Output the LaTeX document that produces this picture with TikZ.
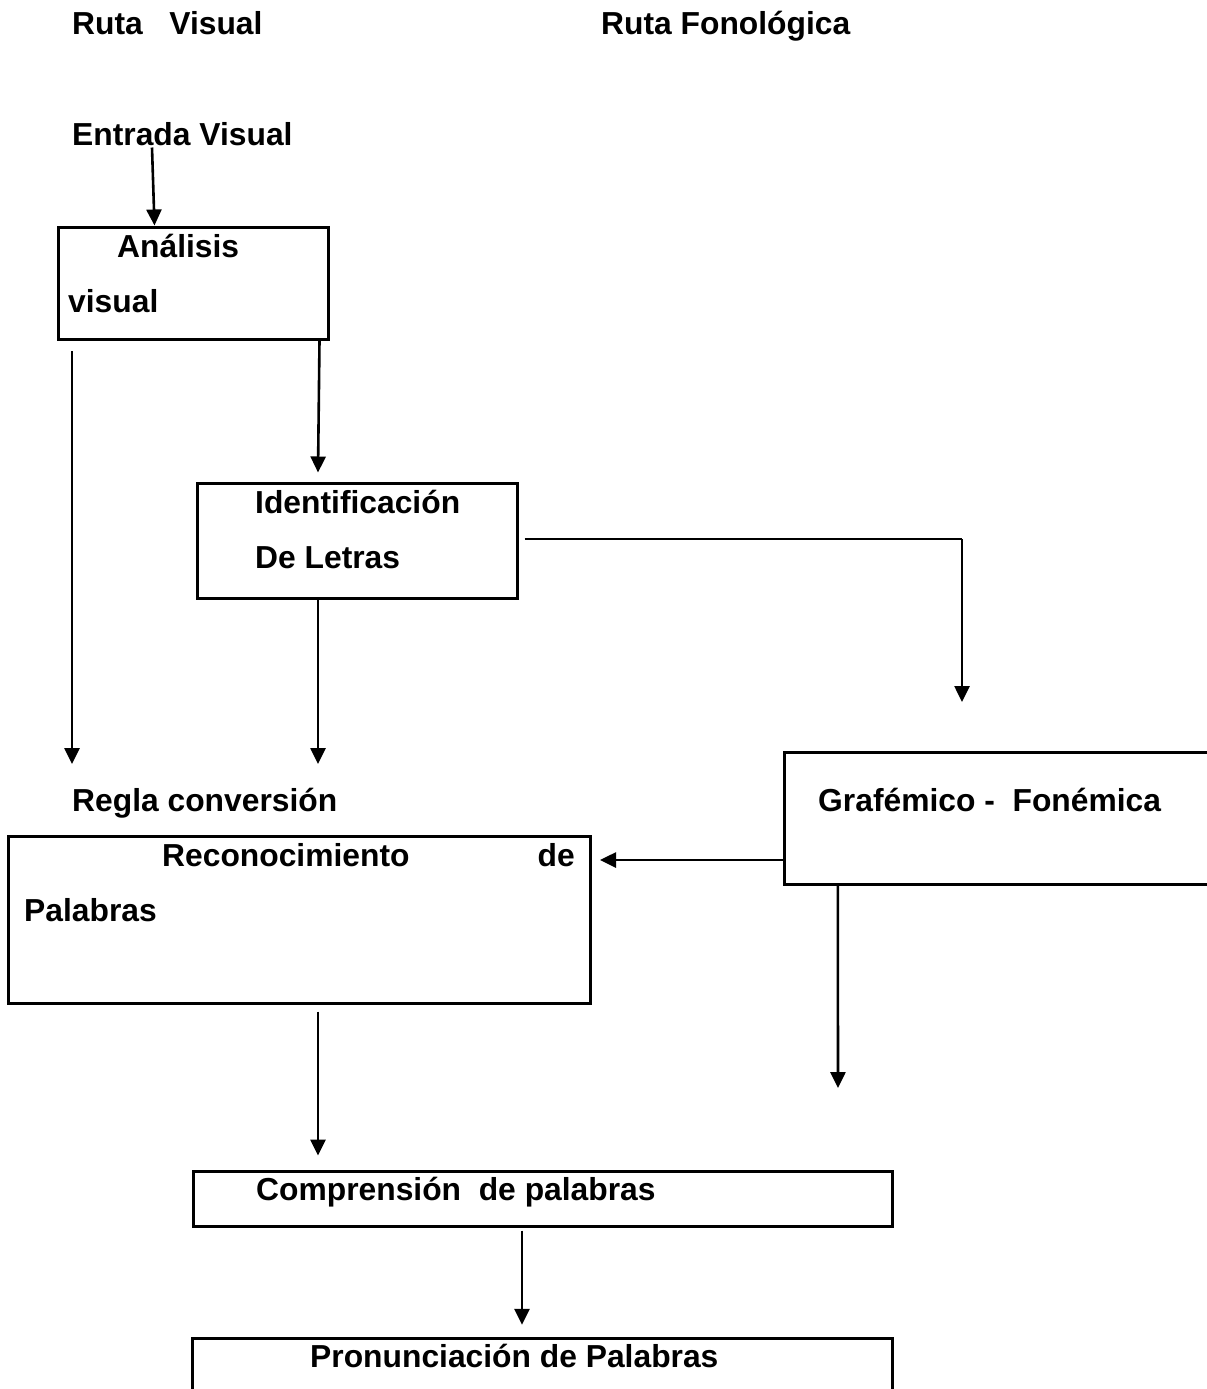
\documentclass[tikz,border=0pt]{standalone}
\usepackage{fontspec}
\setmainfont{Liberation Sans}
\usetikzlibrary{arrows.meta}
\tikzset{
  lbl/.style={anchor=base west, inner sep=0pt, font=\fontsize{31.8}{38}\selectfont\bfseries},
  lble/.style={anchor=base east, inner sep=0pt, font=\fontsize{31.8}{38}\selectfont\bfseries},
  box/.style={draw, line width=3pt, inner sep=0pt, rectangle},
  openbox/.style={inner sep=0pt, rectangle},
  boxline/.style={line width=3pt},
  arr/.style={line width=2.6pt, -{Triangle[length=16pt,width=15pt]}},
  ln/.style={line width=2.6pt}
}
\begin{document}
\begin{tikzpicture}[x=1pt,y=-1pt]
\useasboundingbox[fill=white] (0,0) rectangle (1207,1389);

% titles
\node[lbl] (rv) at (72,35) {Ruta\ \ \ Visual};
\node[lbl] (rf) at (601,35) {Ruta Fonológica};
\node[lbl] (entrada) at (72,145) {Entrada Visual};

% boxes
\node[box, minimum width=270pt, minimum height=112pt] (ana) at (193,283) {};
\node[lbl] (ana1) at (117,257) {Análisis};
\node[lbl] (ana2) at (68,312) {visual};

\node[box, minimum width=320pt, minimum height=115pt] (ide) at (357,540.5) {};
\node[lbl] (ide1) at (255,513) {Identificación};
\node[lbl] (ide2) at (255,568) {De Letras};

\node[lbl] (regla) at (72,811) {Regla conversión};

\node[openbox, minimum width=422pt, minimum height=131pt] (graf) at (996,818.5) {};
\draw[boxline] (graf.north east) -- (graf.north west) -- (graf.south west) -- (graf.south east);
\node[lbl] (graf1) at (818,811) {Grafémico -\ \ Fonémica};

\node[box, minimum width=582pt, minimum height=167pt] (rec) at (299,919.5) {};
\node[lbl] (rec1) at (162,866) {Reconocimiento};
\node[lble] (rec2) at (575,866) {de};
\node[lbl] (rec3) at (24,921) {Palabras};

\node[box, minimum width=699pt, minimum height=55pt] (comp) at (542.5,1198.5) {};
\node[lbl] (comp1) at (256,1200) {Comprensión\ \ de palabras};

\node[openbox, minimum width=699pt, minimum height=62pt] (pron) at (542.5,1370) {};
\draw[boxline] (pron.south west) -- (pron.north west) -- (pron.north east) -- (pron.south east);
\node[lbl] (pron1) at (310,1367) {Pronunciación de Palabras};

% free ends
\coordinate (l1s) at (72,351);
\coordinate (l1e) at (72,764);
\coordinate (a4c) at (962,539);
\coordinate (a4e) at (962,702);
\coordinate (a5e) at (318,764);
\coordinate (a6e) at (600,860);
\coordinate (a7e) at (838,1088);

% connectors
\draw[arr] ([xshift=80pt,yshift=-2pt]entrada.south west) -- ([xshift=98pt]ana.north west);
\draw[arr] (l1s) -- (l1e);
\draw[arr] ([xshift=-10pt]ana.south east) -- ([xshift=-39pt,yshift=9pt]ide.north);
\draw[ln] ([xshift=6pt,yshift=1.5pt]ide.east) -- (a4c);
\draw[arr] (a4c) -- (a4e);
\draw[arr] ([xshift=-39pt]ide.south) -- (a5e);
\draw[arr] ([yshift=-41.5pt]graf.west) -- (a6e);
\draw[arr] ([xshift=53pt]graf.south west) -- (a7e);
\draw[arr] ([xshift=19pt,yshift=-7pt]rec.south) -- ([xshift=-224.5pt,yshift=14pt]comp.north);
\draw[arr] ([xshift=-20.5pt,yshift=-3pt]comp.south) -- ([xshift=-20.5pt,yshift=14pt]pron.north);
\end{tikzpicture}
\end{document}
